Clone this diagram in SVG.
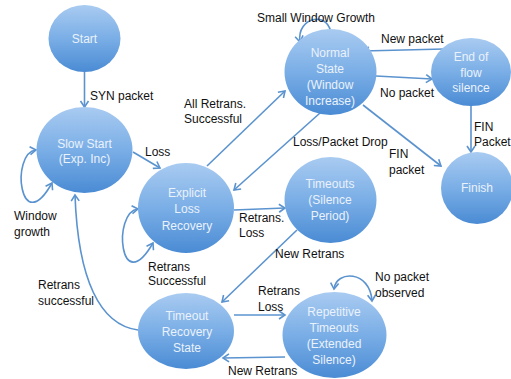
<svg xmlns="http://www.w3.org/2000/svg" width="511" height="379" viewBox="0 0 511 379">
<defs>
<linearGradient id="g" x1="0" y1="0" x2="0" y2="1">
<stop offset="0" stop-color="#a9cbf1"/>
<stop offset="0.5" stop-color="#7aaee6"/>
<stop offset="1" stop-color="#4a8bd4"/>
</linearGradient>
<marker id="a" markerWidth="10" markerHeight="10" refX="8" refY="5" orient="auto-start-reverse" markerUnits="userSpaceOnUse">
<path d="M2,1 L8,5 L2,9" fill="none" stroke="#5b93cf" stroke-width="1.6"/>
</marker>
<style>
.n{fill:url(#g);}
.t{font-family:"Liberation Sans",Arial,sans-serif;font-size:12px;fill:#eaf2fb;text-anchor:middle;}
.l{font-family:"Liberation Sans",Arial,sans-serif;font-size:12px;fill:#111;}
.c{fill:none;stroke:#5b93cf;stroke-width:1.6;marker-end:url(#a);}
.d{marker-start:url(#a);}
</style>
</defs>
<rect width="511" height="379" fill="#fff"/>
<g id="connectors">
<path class="c" d="M84.5,72 L84.5,107"/>
<path class="c" d="M133,152 L160,168"/>
<path class="c" d="M207,166 L285,91"/>
<path class="c" d="M320,113 L234,190"/>
<path class="c" d="M444,49 L363,51"/>
<path class="c" d="M376,76 L432,79"/>
<path class="c" d="M363,105 L441,166"/>
<path class="c" d="M471,105 L471,152"/>
<path class="c d" d="M300,42 C296,16 331,10 331,36"/>
<path class="c d" d="M334,289 C336,270 370,270 372,301"/>
<path class="c d" d="M138,209 C112,212 120,300 153,243"/>
<path class="c d" d="M36,150 C10,153 20,240 52,183"/>
<path class="c" d="M234,210 L285,208"/>
<path class="c" d="M297,230 L222,302"/>
<path class="c" d="M234,315 L285,315"/>
<path class="c" d="M285,357 L223,358"/>
<path class="c" d="M138,330 C100,325 78,280 75,195"/>
</g>
<g id="start"><ellipse class="n" cx="84.5" cy="38.5" rx="36" ry="33.5"/><text class="t" x="84.5" y="43">Start</text></g>
<g id="slowstart"><ellipse class="n" cx="84.5" cy="150" rx="48" ry="43"/><text class="t" x="84.5" y="148">Slow Start</text><text class="t" x="84.5" y="163">(Exp. Inc)</text></g>
<g id="explicit"><ellipse class="n" cx="186" cy="208" rx="48" ry="45"/><text class="t" x="187" y="197">Explicit</text><text class="t" x="187" y="213">Loss</text><text class="t" x="187" y="230">Recovery</text></g>
<g id="timeoutrecovery"><ellipse class="n" cx="186" cy="331" rx="48" ry="38"/><text class="t" x="187" y="320">Timeout</text><text class="t" x="187" y="336">Recovery</text><text class="t" x="187" y="352">State</text></g>
<g id="normal"><ellipse class="n" cx="330.5" cy="72" rx="46" ry="43"/><text class="t" x="330" y="57">Normal</text><text class="t" x="330" y="73">State</text><text class="t" x="330" y="89">(Window</text><text class="t" x="330" y="105">Increase)</text></g>
<g id="endofflow"><ellipse class="n" cx="471" cy="72" rx="40" ry="34"/><text class="t" x="471" y="61">End of</text><text class="t" x="471" y="77">flow</text><text class="t" x="471" y="92">silence</text></g>
<g id="finish"><ellipse class="n" cx="477" cy="188" rx="36" ry="36"/><text class="t" x="477" y="192">Finish</text></g>
<g id="timeouts"><ellipse class="n" cx="330.5" cy="200" rx="46" ry="43"/><text class="t" x="330" y="188">Timeouts</text><text class="t" x="330" y="204">(Silence</text><text class="t" x="330" y="220">Period)</text></g>
<g id="repetitive"><ellipse class="n" cx="334.5" cy="335" rx="52" ry="43"/><text class="t" x="334" y="316">Repetitive</text><text class="t" x="334" y="332">Timeouts</text><text class="t" x="334" y="348">(Extended</text><text class="t" x="334" y="364">Silence)</text></g>
<g id="labels">
<text class="l" x="257" y="22">Small Window Growth</text>
<text class="l" x="381" y="43">New packet</text>
<text class="l" x="380" y="97">No packet</text>
<text class="l" x="293" y="146">Loss/Packet Drop</text>
<text class="l" x="389" y="158">FIN</text>
<text class="l" x="389" y="174">packet</text>
<text class="l" x="474" y="131">FIN</text>
<text class="l" x="474" y="146" font-size="11">Packet</text>
<text class="l" x="90" y="100">SYN packet</text>
<text class="l" x="184" y="108">All Retrans.</text>
<text class="l" x="184" y="123">Successful</text>
<text class="l" x="145" y="156">Loss</text>
<text class="l" x="14" y="220">Window</text>
<text class="l" x="14" y="236">growth</text>
<text class="l" x="148" y="271">Retrans</text>
<text class="l" x="148" y="285">Successful</text>
<text class="l" x="38" y="289">Retrans</text>
<text class="l" x="38" y="305">successful</text>
<text class="l" x="239" y="222">Retrans.</text>
<text class="l" x="239" y="237">Loss</text>
<text class="l" x="275" y="258">New Retrans</text>
<text class="l" x="258" y="295">Retrans</text>
<text class="l" x="258" y="311">Loss</text>
<text class="l" x="375" y="281">No packet</text>
<text class="l" x="375" y="297">observed</text>
<text class="l" x="228" y="375">New Retrans</text>
</g>
</svg>
